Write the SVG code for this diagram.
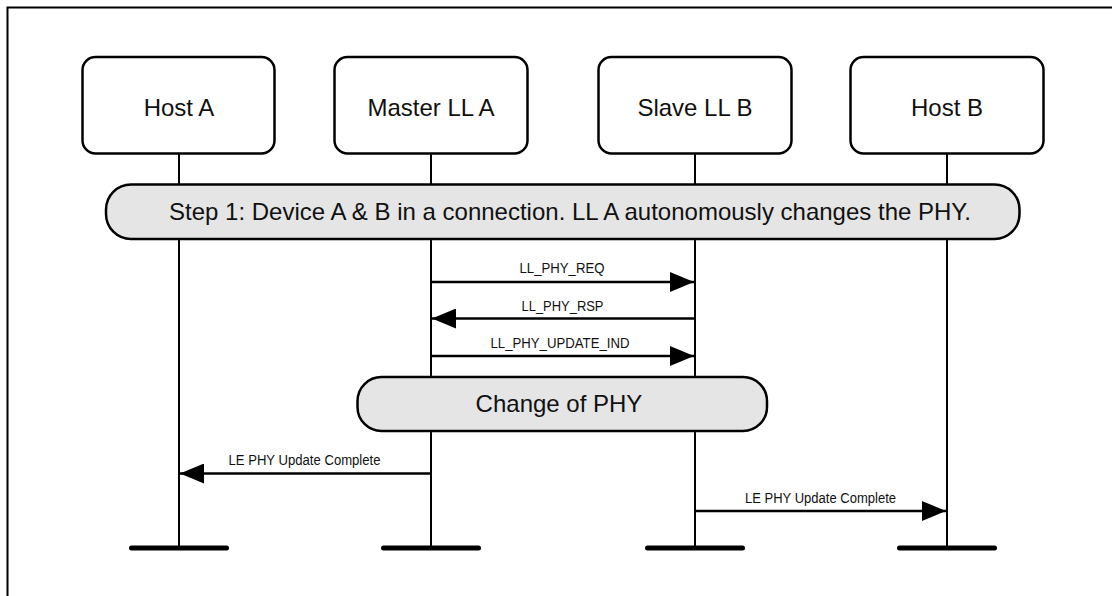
<svg xmlns="http://www.w3.org/2000/svg" width="1112" height="596" viewBox="0 0 1112 596">
  <defs>
    <style>
      .frame { fill: none; stroke: #000; stroke-width: 2; }
      .box { fill: #fff; stroke: #000; stroke-width: 2.5; }
      .bar { fill: #e5e5e5; stroke: #000; stroke-width: 2.5; }
      .big { font-family: "Liberation Sans", Arial, sans-serif; font-size: 24px; fill: #111; text-anchor: middle; }
      .small { font-family: "Liberation Sans", Arial, sans-serif; font-size: 14px; fill: #111; text-anchor: middle; }
      .life { stroke: #000; stroke-width: 2; fill: none; }
      .foot { stroke: #000; stroke-width: 5; stroke-linecap: round; }
      .msg { stroke: #000; stroke-width: 2.5; fill: none; marker-end: url(#arrow); }
    </style>
    <marker id="arrow" markerUnits="userSpaceOnUse" markerWidth="24" markerHeight="20" refX="24" refY="10" orient="auto" viewBox="0 0 24 20">
      <path d="M0,0 L24,10 L0,20 Z" fill="#000"/>
    </marker>
  </defs>

  <rect width="1112" height="596" fill="#fff"/>
  <rect class="frame" x="7.5" y="7.5" width="1200" height="700"/>

  <g id="lifelines">
    <line class="life" x1="179" y1="153" x2="179" y2="548"/>
    <line class="life" x1="431" y1="153" x2="431" y2="548"/>
    <line class="life" x1="695" y1="153" x2="695" y2="548"/>
    <line class="life" x1="947" y1="153" x2="947" y2="548"/>
    <line class="foot" x1="131.5" y1="548" x2="226.5" y2="548"/>
    <line class="foot" x1="383.5" y1="548" x2="478.5" y2="548"/>
    <line class="foot" x1="647.5" y1="548" x2="742.5" y2="548"/>
    <line class="foot" x1="899.5" y1="548" x2="994.5" y2="548"/>
  </g>

  <g id="host-a">
    <rect class="box" x="82.5" y="57" width="192" height="96.5" rx="13"/>
    <text class="big" x="179" y="115.5">Host A</text>
  </g>
  <g id="master-ll-a">
    <rect class="box" x="334.5" y="57" width="193" height="96.5" rx="13"/>
    <text class="big" x="431" y="115.5">Master LL A</text>
  </g>
  <g id="slave-ll-b">
    <rect class="box" x="598.5" y="57" width="193" height="96.5" rx="13"/>
    <text class="big" x="695" y="115.5">Slave LL B</text>
  </g>
  <g id="host-b">
    <rect class="box" x="850.5" y="57" width="193" height="96.5" rx="13"/>
    <text class="big" x="947" y="115.5">Host B</text>
  </g>

  <g id="step1">
    <rect class="bar" x="106" y="184.5" width="913.5" height="54.5" rx="25"/>
    <text class="big" x="570" y="219.5">Step 1: Device A &amp; B in a connection. LL A autonomously changes the PHY.</text>
  </g>

  <g id="change-of-phy">
    <rect class="bar" x="357.5" y="377" width="409.5" height="54" rx="24"/>
    <text class="big" x="559" y="411.5">Change of PHY</text>
  </g>

  <g id="connectors">
    <line class="msg" x1="431" y1="282" x2="694" y2="282"/>
    <text class="small" x="562" y="273.3" textLength="85" lengthAdjust="spacingAndGlyphs">LL_PHY_REQ</text>
    <line class="msg" x1="695" y1="318.5" x2="432" y2="318.5"/>
    <text class="small" x="562.5" y="310.8" textLength="82" lengthAdjust="spacingAndGlyphs">LL_PHY_RSP</text>
    <line class="msg" x1="431" y1="356" x2="694" y2="356"/>
    <text class="small" x="560" y="347.8" textLength="139" lengthAdjust="spacingAndGlyphs">LL_PHY_UPDATE_IND</text>
    <line class="msg" x1="431" y1="473.5" x2="180" y2="473.5"/>
    <text class="small" x="304.5" y="465.3" textLength="152" lengthAdjust="spacingAndGlyphs">LE PHY Update Complete</text>
    <line class="msg" x1="695" y1="511" x2="946" y2="511"/>
    <text class="small" x="820.5" y="502.8" textLength="151" lengthAdjust="spacingAndGlyphs">LE PHY Update Complete</text>
  </g>
</svg>
